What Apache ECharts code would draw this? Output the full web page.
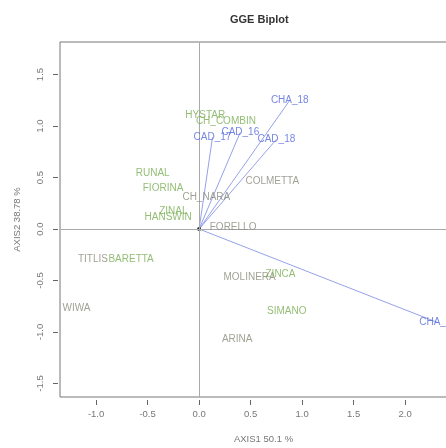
<!DOCTYPE html>
<html><head><meta charset="utf-8">
<script src="https://cdn.jsdelivr.net/npm/echarts@6/dist/echarts.min.js"></script>
<style>html,body{margin:0;padding:0;background:#fff}#c{width:446px;height:448px}</style>
</head><body><div id="c"></div>
<script>
// ---- data ----
const genoNames = ['HYSTAR','CH_COMBIN','RUNAL','FIORINA','CH_NARA','COLMETTA','ZINAL','HANSWIN','FORELLO','TITLIS','BARETTA','WIWA','MOLINERA','ZINCA','SIMANO','ARINA'];
const genoX = [0.06, 0.26, -0.45, -0.35, 0.07, 0.71, -0.25, -0.30, 0.33, -1.03, -0.66, -1.19, 0.49, 0.79, 0.85, 0.37];
const genoY = [1.10, 1.05, 0.54, 0.40, 0.31, 0.46, 0.17, 0.11, 0.02, -0.29, -0.29, -0.77, -0.47, -0.44, -0.80, -1.07];
const envNames = ['CHA_18','CAD_18','CAD_16','CAD_17','CHA_17'];
const envX = [0.88, 0.75, 0.40, 0.13, 2.32];
const envY = [1.25, 0.87, 0.94, 0.89, -0.91];
const tickDecimals = 1;
const axis1Title = 'AXIS1 50.1 %';
const axis2Title = 'AXIS2 38.78 %';

// ---- styling ----
const greyLabels = new Set(['CH_NARA','COLMETTA','FORELLO','TITLIS','WIWA','MOLINERA','ARINA']);
const GREEN = '#78ad52', GREY = '#8a8a7c', BLUE = '#5468dc', VEC = '#95a2ea';
const FONT = 'Liberation Sans';
const XMIN = -1.35, XMAX = 2.6, YMIN = -1.631, YMAX = 1.816;

const genoData = genoNames.map((n, i) => ({
  name: n, value: [genoX[i], genoY[i]],
  label: { color: greyLabels.has(n) ? GREY : GREEN }
}));
const envData = envNames.map((n, i) => ({ name: n, value: [envX[i], envY[i]] }));
const vecData = envNames.map((n, i) => ({ coords: [[0, 0], [envX[i], envY[i]]] }));

const tickStyle = { show: true, length: 5, lineStyle: { color: '#666' } };

const chart = echarts.init(document.getElementById('c'), null, { renderer: 'canvas' });
chart.setOption({
  animation: false,
  backgroundColor: '#fff',
  textStyle: { fontFamily: FONT },
  title: {
    text: 'GGE Biplot', left: 225, top: 9,
    textStyle: { fontSize: 11, fontWeight: 'bold', color: '#333', fontFamily: FONT }
  },
  grid: { left: 60, top: 42, width: 407, height: 355, show: true, borderColor: '#777', borderWidth: 1,
          outerBoundsMode: 'none' },
  xAxis: {
    type: 'value', min: XMIN, max: XMAX, splitNumber: 8, minInterval: 0.5, maxInterval: 0.5,
    offset: 3,
    splitLine: { show: false }, axisLine: { show: false, onZero: false },
    axisTick: tickStyle,
    axisLabel: { showMinLabel: false, showMaxLabel: false, fontSize: 9.5, color: '#777', margin: 9,
      formatter: v => v.toFixed(tickDecimals) },
    name: axis1Title, nameLocation: 'middle', nameGap: 34,
    nameTextStyle: { fontSize: 9.5, color: '#777' }
  },
  yAxis: {
    type: 'value', min: YMIN, max: YMAX, splitNumber: 7, minInterval: 0.5, maxInterval: 0.5,
    offset: 2,
    splitLine: { show: false }, axisLine: { show: false, onZero: false },
    axisTick: tickStyle,
    axisLabel: { showMinLabel: false, showMaxLabel: false, fontSize: 9.5, color: '#777', margin: 13, rotate: 90,
      formatter: v => v.toFixed(tickDecimals) },
    name: axis2Title, nameLocation: 'middle', nameGap: 36,
    nameTextStyle: { fontSize: 9.5, color: '#777' }
  },
  series: [
    {
      type: 'lines', coordinateSystem: 'cartesian2d', silent: true, z: 2,
      lineStyle: { color: VEC, width: 1, opacity: 1 },
      data: vecData
    },
    {
      type: 'scatter', name: 'origin', z: 4, symbol: 'circle', symbolSize: 4,
      itemStyle: { color: '#000' },
      data: [[0, 0]],
      markLine: {
        silent: true, symbol: 'none', label: { show: false },
        lineStyle: { color: '#aaa', type: 'solid', width: 1 },
        data: [{ xAxis: 0 }, { yAxis: 0 }]
      }
    },
    {
      type: 'scatter', name: 'genotypes', z: 5, symbolSize: 0.1,
      itemStyle: { color: 'rgba(0,0,0,0)' },
      label: { show: true, position: 'inside', formatter: p => p.name, fontSize: 10, fontFamily: FONT },
      labelLayout: { hideOverlap: false },
      data: genoData
    },
    {
      type: 'scatter', name: 'environments', z: 6, symbolSize: 0.1,
      itemStyle: { color: 'rgba(0,0,0,0)' },
      label: { show: true, position: 'inside', formatter: p => p.name, fontSize: 10, color: BLUE, fontFamily: FONT },
      labelLayout: { hideOverlap: false },
      data: envData
    }
  ]
});
</script></body></html>
